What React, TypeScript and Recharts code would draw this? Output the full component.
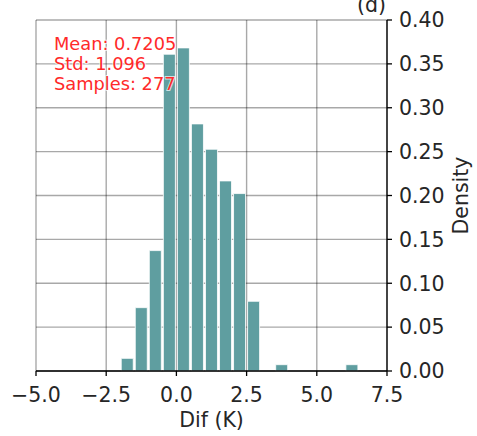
import { Bar, CartesianGrid, ComposedChart, XAxis, YAxis } from "recharts";

const binCenters = [-1.75, -1.25, -0.75, -0.25, 0.25, 0.75, 1.25, 1.75, 2.25, 2.75, 3.25, 3.75, 4.25, 4.75, 5.25, 5.75, 6.25];
const density = [0.0144, 0.0722, 0.1372, 0.361, 0.3682, 0.2816, 0.2527, 0.2166, 0.2022, 0.0794, 0, 0.0072, 0, 0, 0, 0, 0.0072];
const xTicks = [-5, -2.5, 0, 2.5, 5, 7.5];
const yTicks = [0, 0.05, 0.1, 0.15, 0.2, 0.25, 0.3, 0.35, 0.4];
const statsLines = ["Mean: 0.7205", "Std: 1.096", "Samples: 277"];

const data = binCenters.map((x, i) => ({ x, density: density[i] }));

const FONT = "'DejaVu Sans', sans-serif";
const INK = "#262626";

export default function App() {
  return (
    <div style={{ position: "absolute", left: 0, top: 0, width: 477, height: 436 }}>
      <style>{"body{margin:0}"}</style>
      <ComposedChart
        width={477}
        height={436}
        data={data}
        margin={{ top: 20, right: 0, bottom: 0, left: 36 }}
        style={{ fontFamily: FONT }}
      >
        <XAxis
          dataKey="x"
          type="number"
          domain={[-5, 7.5]}
          ticks={xTicks}
          allowDataOverflow
          height={65}
          tickSize={5}
          tickMargin={11}
          tickFormatter={(v: number) => v.toFixed(1).replace("-", "\u2212")}
          tick={{ fill: INK, fontSize: 20.5 }}
          stroke="#000"
          strokeWidth={1.3}
          interval={0}
          label={{ value: "Dif (K)", position: "insideBottom", offset: 9, fill: INK, fontSize: 20.5 }}
        />
        <XAxis xAxisId="top" orientation="top" type="number" domain={[-5, 7.5]} height={0} tick={false} tickLine={false} stroke="#000" strokeWidth={1.3} />
        <YAxis
          orientation="right"
          domain={[0, 0.4]}
          ticks={yTicks}
          width={90}
          tickSize={5}
          tickMargin={7}
          interval={0}
          tickFormatter={(v: number) => v.toFixed(2)}
          tick={{ fill: INK, fontSize: 20.5 }}
          stroke="#000"
          strokeWidth={1.3}
        />
        <YAxis yAxisId="left" orientation="left" domain={[0, 0.4]} width={0} tick={false} tickLine={false} stroke="#000" strokeWidth={1.3} />
        <Bar dataKey="density" fill="#5f9ea0" stroke="#ffffff" strokeWidth={0.8} barSize={12} isAnimationActive={false} />
        <CartesianGrid stroke="#000" strokeOpacity={0.34} strokeWidth={1.4} />
      </ComposedChart>
      {/* annotations sit above the bars, as in the original figure */}
      <svg width={477} height={436} style={{ position: "absolute", left: 0, top: 0, pointerEvents: "none" }}>
        <text x={371.5} y={12} textAnchor="middle" fontSize={20.5} fill={INK} fontFamily={FONT}>
          (d)
        </text>
        <text
          transform="translate(461 195.5) rotate(-90)"
          textAnchor="middle"
          dominantBaseline="central"
          fontSize={20.5}
          fill={INK}
          fontFamily={FONT}
        >
          Density
        </text>
        {statsLines.map((line, i) => (
          <text
            key={line}
            x={54}
            y={50 + i * 20}
            fontSize={17.8}
            fill="#ff2a2a"
            stroke="#ffffff"
            strokeWidth={2}
            strokeOpacity={0.7}
            paintOrder="stroke"
            fontFamily={FONT}
          >
            {line}
          </text>
        ))}
      </svg>
    </div>
  );
}
